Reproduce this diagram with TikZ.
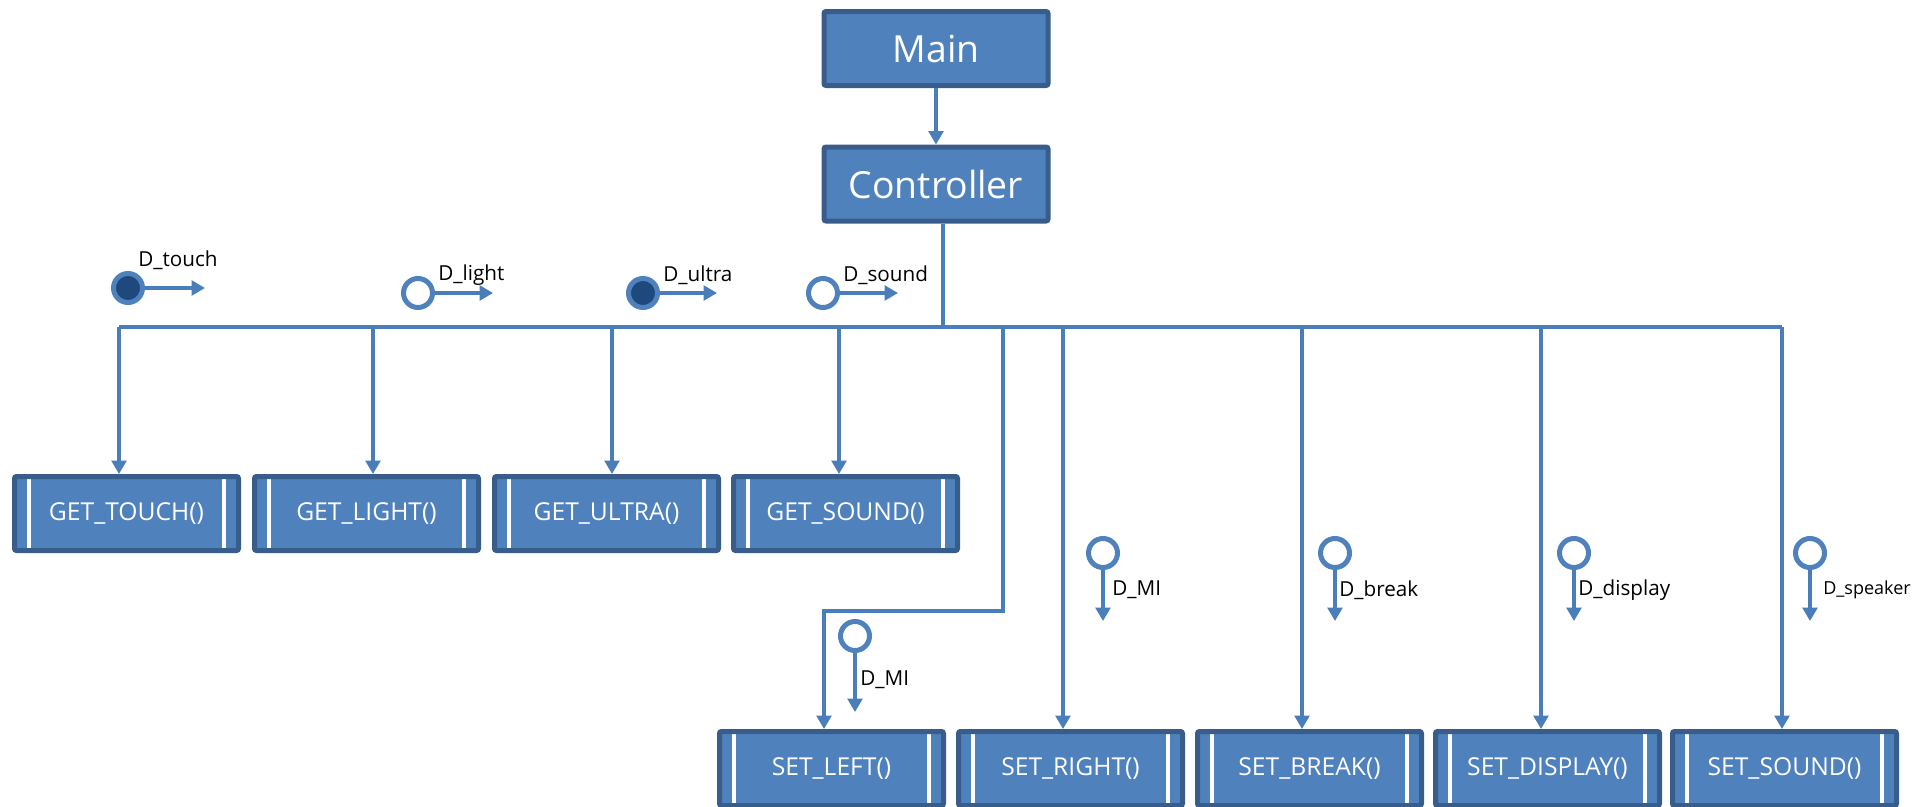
\documentclass[tikz,border=0pt]{standalone}
\usepackage{fontspec}
\setmainfont{Open Sans}
\usetikzlibrary{arrows.meta}
\definecolor{boxfill}{HTML}{4F81BD}
\definecolor{boxdraw}{HTML}{385D8A}
\definecolor{linec}{HTML}{4A7EBB}
\definecolor{darkdot}{HTML}{1F497D}
\tikzset{
  basebox/.style={draw=boxdraw, fill=boxfill, line width=3.75pt, rounded corners=1.5pt,
    minimum width=168pt, minimum height=55.5pt, inner sep=0pt, text=white},
  topbox/.style={basebox, font=\fontsize{28}{34}\selectfont},
  fnbox/.style={basebox, font=\fontsize{18.5}{22}\selectfont,
    path picture={
      \draw[white, line width=3.5pt]
        ([xshift=10.9pt]path picture bounding box.north west) --
        ([xshift=10.9pt]path picture bounding box.south west);
      \draw[white, line width=3.5pt]
        ([xshift=-10.9pt]path picture bounding box.north east) --
        ([xshift=-10.9pt]path picture bounding box.south east);
    }},
  conn/.style={draw=linec, line width=2.4pt},
  arr/.style={conn, -{Triangle[width=11pt, length=10pt]}},
  sensopen/.style={circle, draw=boxfill, fill=white, line width=3.75pt, minimum size=21.75pt, inner sep=0pt},
  sensfull/.style={sensopen, fill=darkdot},
  lbl/.style={font=\fontsize{15.5}{18}\selectfont, inner sep=0pt, anchor=west},
  lblsmall/.style={font=\fontsize{13.5}{16}\selectfont, inner sep=0pt, anchor=west},
}
\begin{document}
\begin{tikzpicture}[x=0.75pt, y=-0.75pt]
\useasboundingbox (0,0) rectangle (1932,807);

% top boxes
\node[topbox] (main) at (936,48.5) {Main};
\node[topbox] (ctrl) at (936,184) {Controller};
\draw[arr] (main) -- (ctrl);

% bus
\coordinate (cb) at (943,327);
\coordinate (bl) at (119,327);
\coordinate (br) at (1782,327);
\draw[conn] (cb |- ctrl.south) -- (cb);
\draw[conn] (bl) -- (br);

% GET boxes
\node[fnbox] (g1) at (126.5,513.5) {GET\_TOUCH()};
\node[fnbox] (g2) at (366.5,513.5) {GET\_LIGHT()};
\node[fnbox] (g3) at (606.5,513.5) {GET\_ULTRA()};
\node[fnbox] (g4) at (845.5,513.5) {GET\_SOUND()};

% SET boxes
\node[fnbox] (s1) at (831.5,768.5) {SET\_LEFT()};
\node[fnbox] (s2) at (1070.5,768.5) {SET\_RIGHT()};
\node[fnbox] (s3) at (1309.5,768.5) {SET\_BREAK()};
\node[fnbox] (s4) at (1547.5,768.5) {SET\_DISPLAY()};
\node[fnbox] (s5) at (1784.5,768.5) {SET\_SOUND()};

% drops to GET
\coordinate (d1) at (119,327);
\coordinate (d2) at (373,327);
\coordinate (d3) at (612,327);
\coordinate (d4) at (839,327);
\draw[arr] (d1) -- (d1 |- g1.north);
\draw[arr] (d2) -- (d2 |- g2.north);
\draw[arr] (d3) -- (d3 |- g3.north);
\draw[arr] (d4) -- (d4 |- g4.north);

% drops to SET
\coordinate (k) at (1003,327);
\coordinate (kb) at (824,611);
\draw[arr] (k) |- (kb) -- (kb |- s1.north);
\coordinate (e2) at (1063,327);
\coordinate (e3) at (1302,327);
\coordinate (e4) at (1541,327);
\coordinate (e5) at (1782,327);
\draw[arr] (e2) -- (e2 |- s2.north);
\draw[arr] (e3) -- (e3 |- s3.north);
\draw[arr] (e4) -- (e4 |- s4.north);
\draw[arr] (e5) -- (e5 |- s5.north);

% top sensors
\node[sensfull] (t1) at (128,288) {};
\coordinate (t1e) at (205,289);
\draw[arr] (t1) -- (t1 -| t1e);
\node[lbl] (t1l) at (138,260) {D\_touch};

\node[sensopen] (t2) at (418,293) {};
\coordinate (t2e) at (493,293);
\draw[arr] (t2) -- (t2e);
\node[lbl] (t2l) at (438,275) {D\_light};

\node[sensfull] (t3) at (643,293) {};
\coordinate (t3e) at (717,293);
\draw[arr] (t3) -- (t3e);
\node[lbl] (t3l) at (663,275) {D\_ultra};

\node[sensopen] (t4) at (823,293) {};
\coordinate (t4e) at (898,293);
\draw[arr] (t4) -- (t4e);
\node[lbl] (t4l) at (843,275) {D\_sound};

% bottom sensors
\node[sensopen] (b1) at (855,636) {};
\coordinate (b1e) at (855,712);
\draw[arr] (b1.south) -- (b1e);
\node[lbl] (b1l) at (860,680) {D\_MI};

\node[sensopen] (b2) at (1103,553) {};
\coordinate (b2e) at (1103,621);
\draw[arr] (b2.south) -- (b2e);
\node[lbl] (b2l) at (1112,590) {D\_MI};

\node[sensopen] (b3) at (1335,553) {};
\coordinate (b3e) at (1335,621);
\draw[arr] (b3.south) -- (b3e);
\node[lbl] (b3l) at (1339,590) {D\_break};

\node[sensopen] (b4) at (1574,553) {};
\coordinate (b4e) at (1574,621);
\draw[arr] (b4.south) -- (b4e);
\node[lbl] (b4l) at (1578,590) {D\_display};

\node[sensopen] (b5) at (1810,553) {};
\coordinate (b5e) at (1810,621);
\draw[arr] (b5.south) -- (b5e);
\node[lblsmall] (b5l) at (1823,590) {D\_speaker};
\end{tikzpicture}
\end{document}
